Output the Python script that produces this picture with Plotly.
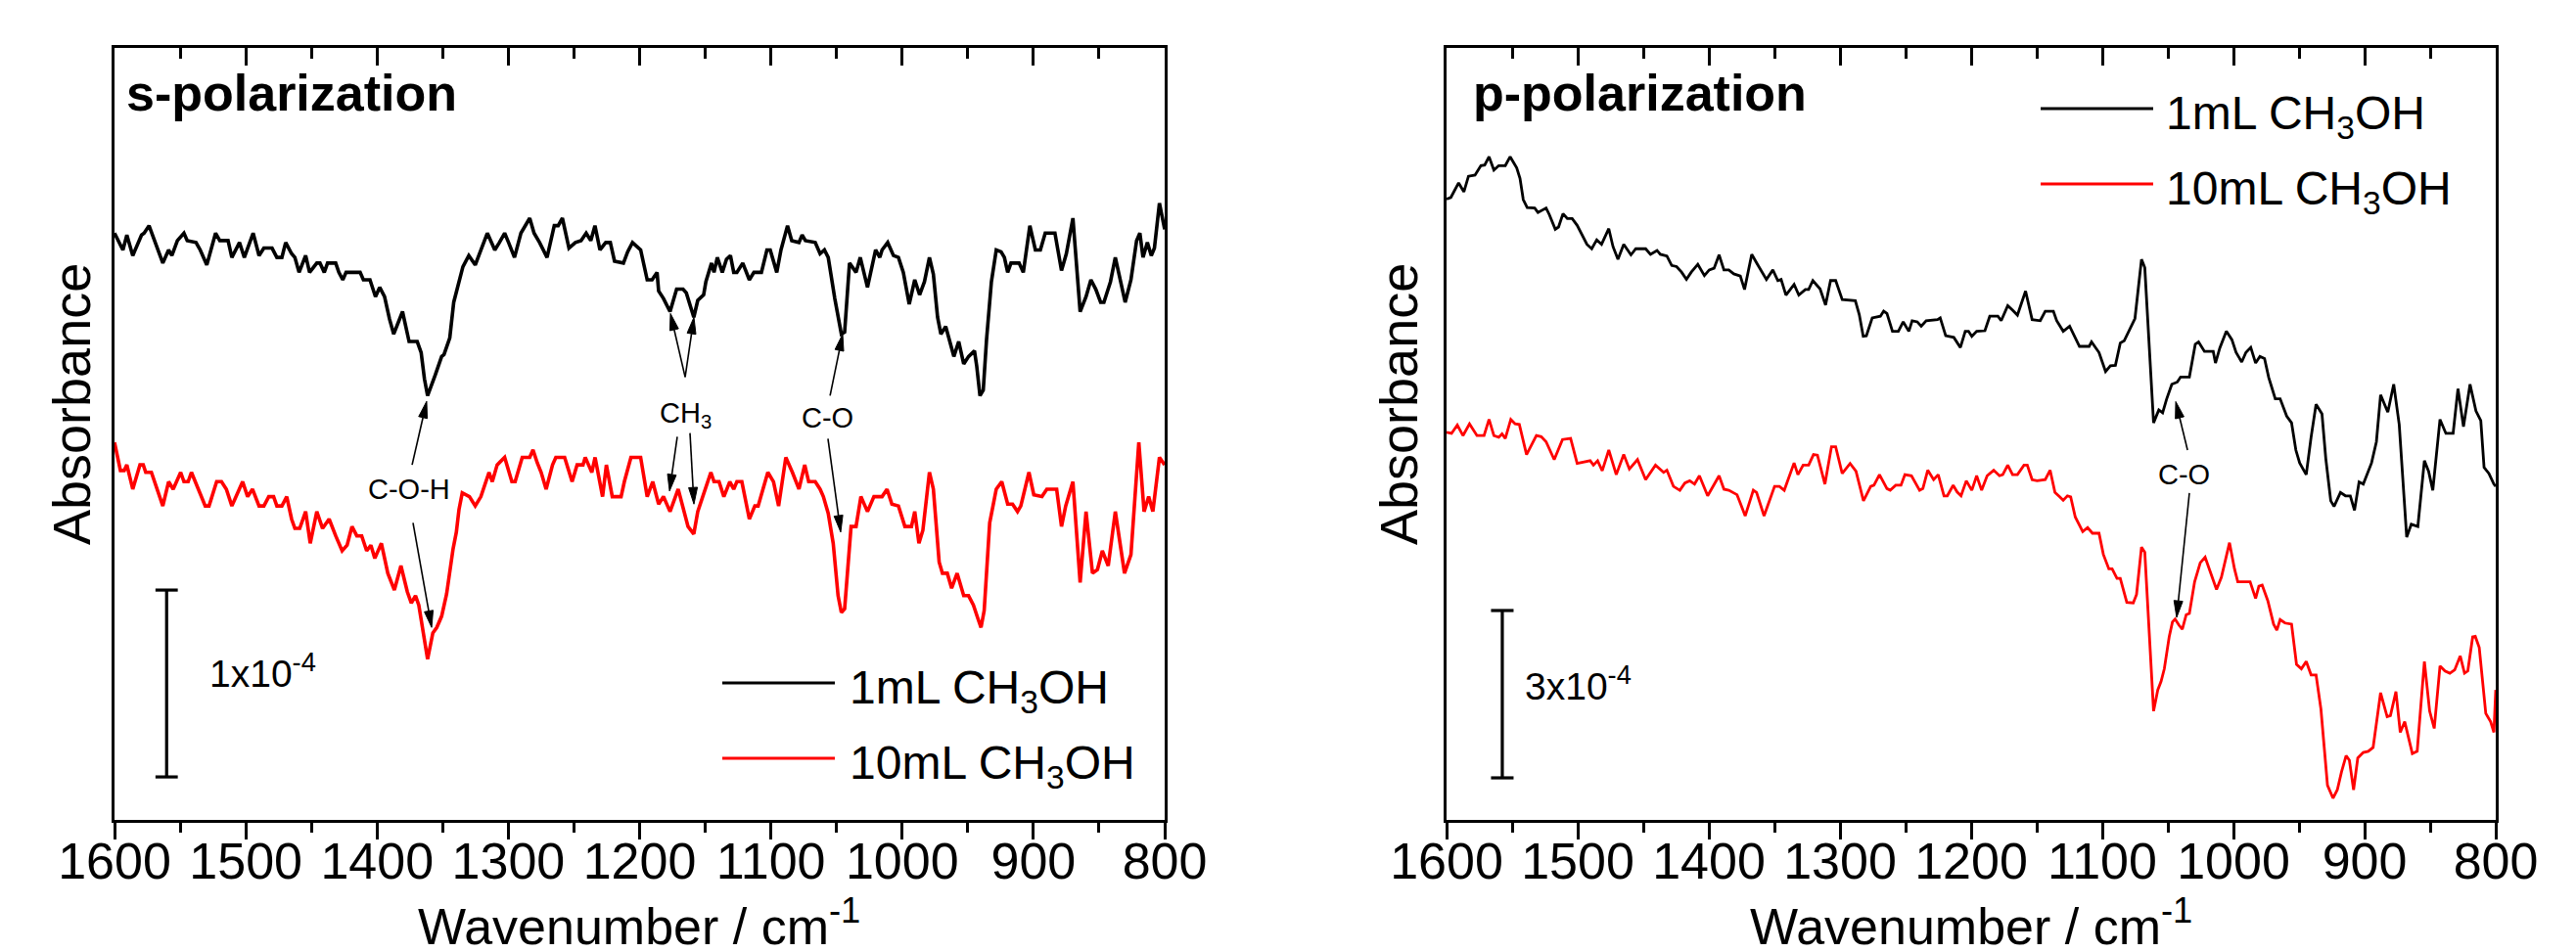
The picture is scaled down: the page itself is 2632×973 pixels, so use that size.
import math
import plotly.graph_objects as go

W, H = 2632, 973

# ---------------- data (wavenumber / cm-1, absorbance in units of 1e-4, offset) ----------------
S_1ML = [(1600,3.14),(1593.6,3.05),(1590.6,3.13),(1586.1,3.02),(1579.4,3.13),(1577.4,3.14),(1573.7,3.18),(1563.2,2.98),(1558.8,3.05),(1556.3,3.02),(1552.1,3.10),(1547.1,3.14),(1544.6,3.10),(1537.9,3.09),(1534.7,3.05),(1529.7,2.97),(1523.0,3.14),(1519.8,3.10),(1513.5,3.10),(1510.6,3.01),(1504.8,3.09),(1501.1,3.01),(1494.4,3.14),(1489.9,3.02),(1486.2,3.06),(1480.0,3.06),(1476.3,3.01),(1472.5,3.01),(1469.6,3.09),(1465.1,3.03),(1462.6,3.01),(1459.4,2.93),(1454.4,3.02),(1451.4,2.93),(1445.9,2.98),(1443.5,2.98),(1440.2,2.93),(1437.7,2.98),(1431.5,2.98),(1429.1,2.93),(1426.1,2.89),(1423.6,2.93),(1412.9,2.93),(1410.4,2.89),(1405.4,2.89),(1401.2,2.80),(1398.0,2.85),(1394.3,2.80),(1390.5,2.68),(1387.3,2.60),(1380.6,2.72),(1375.6,2.56),(1369.4,2.56),(1366.4,2.50),(1363.9,2.36),(1361.5,2.27),(1355.7,2.38),(1350.8,2.48),(1349.0,2.49),(1344.6,2.58),(1341.6,2.77),(1337.6,2.88),(1334.6,2.96),
 (1330.1,3.02),(1325.2,2.97),(1316.0,3.14),(1310.3,3.05),(1306.8,3.09),(1302.8,3.14),(1299.8,3.09),(1295.3,3.01),(1290.4,3.14),(1283.7,3.22),(1280.4,3.14),(1276.2,3.09),(1270.5,3.01),(1265.0,3.18),(1262.0,3.18),(1258.8,3.22),(1253.8,3.06),(1248.9,3.09),(1244.6,3.10),(1240.7,3.14),(1237.2,3.10),(1234.0,3.18),(1230.2,3.05),(1225.8,3.09),(1222.3,3.09),(1219.1,2.99),(1212.3,2.98),(1209.1,3.04),(1205.4,3.09),(1199.2,3.05),(1194.2,2.89),(1190.5,2.89),(1186.7,2.93),(1185.5,2.83),(1181.8,2.79),(1176.8,2.72),(1171.8,2.84),(1166.9,2.84),(1164.4,2.82),(1158.7,2.69),(1155.7,2.78),(1151.2,2.81),(1149.5,2.88),(1145.2,2.98),(1143.3,2.93),(1140.8,3.01),(1137.0,2.93),(1133.8,3.00),(1130.8,3.02),(1128.3,2.93),(1125.9,2.93),(1121.4,2.98),(1116.4,2.89),(1112.9,2.93),(1107.2,2.93),(1103.0,3.05),(1100.5,3.05),(1095.5,2.93),(1092.3,3.05),(1087.3,3.18),(1084.1,3.10),(1078.6,3.09),(1076.2,3.13),(1073.7,3.10),(1066.2,3.09),
 (1062.5,3.03),(1059.2,3.05),(1056.3,3.01),(1051.3,2.79),(1046.3,2.60),(1043.8,2.61),(1040.1,2.98),(1035.1,2.93),(1031.9,3.01),(1026.4,2.85),(1022.7,2.98),(1020.2,3.05),(1017.0,3.01),(1015.3,3.05),(1011.0,3.09),(1006.6,3.02),(1002.8,3.01),(999.1,2.93),(994.6,2.76),(990.4,2.89),(986.7,2.81),(983.0,2.88),(979.2,3.01),(976.2,2.92),(973.0,2.69),(970.5,2.60),(966.8,2.64),(964.3,2.58),(960.6,2.48),(956.9,2.56),(953.1,2.44),(949.4,2.48),(944.9,2.51),(943.2,2.43),(940.7,2.27),(938.2,2.30),(935.7,2.57),(932.0,2.88),(928.3,3.05),(924.6,3.04),(922.1,3.01),(919.6,2.93),(917.1,2.98),(910.9,2.98),(907.7,2.93),(902.7,3.18),(898.5,3.05),(894.7,3.05),(891.0,3.14),(883.6,3.14),(878.6,2.94),(874.9,3.03),(869.9,3.22),(864.4,2.72),(859.9,2.80),(856.2,2.89),(852.5,2.84),(848.8,2.77),(846.3,2.77),(841.3,2.88),(837.6,3.01),(830.1,2.77),(825.7,2.89),(821.4,3.10),(818.9,3.14),(816.5,3.01),(813.2,3.09),(810.2,3.02),(807.8,3.06),(804.0,3.30),(800,3.16)]

S_10ML = [(1600,2.02),(1595.5,1.87),(1592.6,1.87),(1590.6,1.90),(1586.1,1.77),(1580.6,1.90),(1578.1,1.90),(1576.2,1.86),(1571.9,1.86),(1563.2,1.68),(1558.8,1.81),(1555.3,1.77),(1549.6,1.86),(1547.1,1.81),(1543.9,1.81),(1541.4,1.86),(1530.9,1.68),(1528.0,1.68),(1522.2,1.81),(1518.5,1.81),(1514.8,1.77),(1510.6,1.68),(1502.4,1.81),(1498.6,1.73),(1494.9,1.77),(1489.9,1.68),(1486.2,1.68),(1482.5,1.73),(1478.8,1.73),(1476.3,1.68),(1472.5,1.68),(1468.8,1.73),(1465.1,1.61),(1462.6,1.56),(1458.9,1.56),(1454.4,1.65),(1450.9,1.48),(1445.9,1.65),(1441.5,1.56),(1436.5,1.61),(1431.5,1.52),(1426.6,1.44),(1422.8,1.47),(1419.1,1.57),(1415.4,1.52),(1411.7,1.52),(1407.9,1.44),(1404.7,1.47),(1401.7,1.40),(1396.7,1.48),(1391.8,1.32),(1386.8,1.23),(1381.8,1.36),(1376.9,1.22),(1373.9,1.16),(1370.7,1.20),(1368.2,1.15),(1364.4,0.98),(1361.5,0.86),(1357.5,1.00),(1354.5,1.03),(1350.8,1.09),(1347.0,1.21),(1342.1,1.45),(1339.6,1.54),(1337.6,1.66),(1335.1,1.75),
 (1329.6,1.73),(1325.2,1.68),(1320.9,1.73),(1314.7,1.86),(1312.2,1.81),(1308.5,1.90),(1302.8,1.94),(1297.3,1.81),(1294.8,1.81),(1289.4,1.94),(1283.7,1.94),(1281.2,1.98),(1277.9,1.91),(1275.0,1.86),(1271.2,1.77),(1266.3,1.90),(1263.8,1.94),(1257.1,1.94),(1251.4,1.81),(1247.6,1.90),(1243.1,1.90),(1241.4,1.94),(1238.9,1.90),(1236.4,1.86),(1233.9,1.94),(1228.2,1.73),(1225.3,1.90),(1220.8,1.73),(1214.1,1.73),(1211.6,1.81),(1206.6,1.94),(1199.2,1.94),(1194.2,1.73),(1190.0,1.81),(1185.5,1.69),(1181.8,1.73),(1176.8,1.65),(1170.6,1.77),(1163.1,1.57),(1158.7,1.53),(1155.7,1.65),(1145.7,1.86),(1143.3,1.81),(1139.5,1.81),(1135.8,1.73),(1131.3,1.81),(1128.3,1.77),(1125.9,1.81),(1122.1,1.81),(1116.4,1.61),(1112.2,1.68),(1109.7,1.68),(1102.3,1.86),(1098.0,1.81),(1094.1,1.68),(1088.6,1.94),(1083.6,1.86),(1078.6,1.77),(1074.2,1.90),(1071.2,1.81),(1066.2,1.81),
 (1062.5,1.77),(1060.0,1.73),(1056.3,1.64),(1052.5,1.48),(1048.8,1.20),(1046.3,1.11),(1043.8,1.13),(1038.9,1.57),(1035.1,1.57),(1031.4,1.73),(1026.4,1.65),(1021.5,1.73),(1015.3,1.73),(1011.5,1.77),(1007.8,1.69),(1002.8,1.68),(997.9,1.57),(992.9,1.57),(990.4,1.65),(987.2,1.48),(984.2,1.55),(979.2,1.86),(976.2,1.77),(971.8,1.38),(969.3,1.32),(965.6,1.32),(962.3,1.24),(958.1,1.32),(953.1,1.20),(949.4,1.20),(945.7,1.15),(942.4,1.08),(939.9,1.03),(937.5,1.12),(933.3,1.59),(928.3,1.77),(924.1,1.81),(919.6,1.69),(915.9,1.69),(912.1,1.65),(909.6,1.68),(903.4,1.86),(899.7,1.74),(893.5,1.73),(889.8,1.77),(882.3,1.77),(878.6,1.57),(875.4,1.68),(869.9,1.81),(864.4,1.27),(859.9,1.65),(855.0,1.32),(851.2,1.34),(847.5,1.44),(843.0,1.36),(837.6,1.65),(830.6,1.32),(825.7,1.42),(823.2,1.68),(819.7,2.02),(815.7,1.65),(812.2,1.73),(809.0,1.65),(804.0,1.94),(800,1.90)]

P_1ML = [(1600,11.13),(1596.7,11.16),(1590.8,11.42),(1586.8,11.26),(1583.3,11.54),(1578.3,11.56),(1573.8,11.73),(1570.9,11.74),(1567.6,11.89),(1563.9,11.65),(1560.2,11.73),(1555.2,11.73),(1551.5,11.89),(1546.5,11.69),(1544.0,11.50),(1541.5,11.12),(1538.5,10.98),(1532.8,10.97),(1530.3,10.89),(1524.1,10.97),(1521.6,10.85),(1517.1,10.59),(1514.6,10.63),(1511.2,10.87),(1507.9,10.78),(1504.2,10.78),(1500.4,10.66),(1493.0,10.32),(1489.3,10.24),(1485.5,10.40),(1481.8,10.32),(1476.3,10.60),(1473.1,10.28),(1469.3,10.05),(1464.9,10.32),(1459.4,10.13),(1455.7,10.24),(1448.2,10.24),(1444.5,10.14),(1439.5,10.21),(1437.0,10.14),(1432.0,10.11),(1428.3,9.94),(1424.6,9.92),(1420.8,9.82),(1417.1,9.69),(1413.4,9.82),(1408.4,9.96),(1403.4,9.76),(1399.7,9.86),(1396.0,9.89),(1392.2,10.13),(1388.5,9.86),(1384.8,9.86),(1381.0,9.79),(1376.0,9.75),(1372.8,9.51),(1367.3,10.14),(1362.9,9.96),(1356.1,9.69),(1351.2,9.86),(1347.4,9.67),(1344.9,9.69),(1341.2,9.41),(1335.0,9.60),
 (1331.4,9.41),(1326.4,9.51),(1323.9,9.51),(1320.7,9.67),(1317.7,9.58),(1315.2,9.52),(1311.0,9.23),(1307.2,9.67),(1303.3,9.67),(1298.3,9.33),(1288.3,9.31),(1285.3,9.06),(1282.3,8.67),(1279.9,8.68),(1275.4,9.00),(1269.2,9.03),(1266.7,9.12),(1264.2,9.08),(1260.0,8.76),(1255.5,8.76),(1251.8,8.93),(1247.5,8.76),(1245.0,8.95),(1241.1,8.93),(1238.1,8.85),(1234.3,8.95),(1225.6,8.97),(1223.6,9.00),(1219.4,8.68),(1213.2,8.65),(1208.2,8.47),(1204.5,8.76),(1202.0,8.76),(1199.5,8.67),(1195.8,8.76),(1189.5,8.77),(1185.8,9.03),(1179.6,9.03),(1177.1,8.95),(1172.1,9.22),(1168.4,9.14),(1164.7,9.05),(1158.5,9.48),(1153.5,8.97),(1147.3,8.95),(1143.5,9.12),(1137.3,9.12),(1134.8,8.95),(1129.8,8.76),(1124.9,8.85),(1117.4,8.49),(1110.0,8.49),(1108.2,8.57),(1102.5,8.38),(1097.5,8.04),(1093.8,8.14),(1090.0,8.15),(1086.3,8.55),(1083.3,8.59),(1075.1,8.99),(1070.1,10.05),(1067.6,9.90),
 (1060.9,7.12),(1056.9,7.35),(1054.0,7.30),(1051.0,7.54),(1047.0,7.81),(1042.8,7.85),(1040.3,7.94),(1033.6,7.94),(1029.1,8.53),(1026.6,8.57),(1022.1,8.40),(1015.4,8.40),(1013.7,8.19),(1010.4,8.46),(1005.4,8.76),(1001.2,8.61),(998.0,8.38),(993.7,8.21),(990.5,8.38),(986.8,8.47),(983.1,8.19),(979.8,8.31),(976.3,8.27),(973.1,7.93),(970.6,7.74),(968.1,7.55),(964.4,7.55),(959.4,7.24),(955.7,7.12),(952.4,6.63),(949.5,6.40),(944.5,6.19),(940.8,6.86),(937.0,7.45),(932.5,7.28),(929.6,6.48),(925.8,5.72),(923.3,5.62),(918.4,5.87),(914.6,5.81),(910.9,5.81),(907.7,5.55),(904.2,6.06),(901.0,6.02),(894.7,6.40),(891.0,6.78),(887.8,7.62),(882.3,7.31),(877.8,7.81),(873.6,7.09),(867.9,5.07),(864.4,5.30),(859.4,5.26),(854.4,6.44),(851.2,6.25),(848.0,5.91),(842.5,7.18),(838.0,6.93),(832.5,6.93),(828.8,7.73),(824.6,7.05),(819.6,7.81),(815.1,7.33),(811.4,7.16),(808.9,6.32),(805.2,6.21),(801.4,6.02),(800,5.98)]

P_10ML = [(1600,6.95),(1596.2,6.93),(1591.8,7.08),(1587.5,6.89),(1582.5,7.10),(1576.8,6.89),(1571.4,6.89),(1567.6,7.18),(1563.9,6.89),(1560.2,6.86),(1557.7,6.92),(1555.2,6.84),(1551.0,7.18),(1547.7,7.10),(1544.5,7.09),(1539.0,6.55),(1531.5,6.89),(1527.8,6.87),(1524.1,6.78),(1517.9,6.46),(1511.6,6.82),(1505.4,6.84),(1500.4,6.39),(1490.5,6.44),(1488.0,6.36),(1484.8,6.44),(1481.3,6.26),(1476.3,6.63),(1470.6,6.19),(1464.9,6.55),(1460.6,6.29),(1454.4,6.46),(1448.2,6.10),(1440.7,6.36),(1434.5,6.23),(1432.0,6.27),(1427.0,5.98),(1422.1,5.91),(1418.3,6.04),(1414.6,6.08),(1410.9,6.02),(1407.2,6.17),(1400.9,5.81),(1392.2,6.17),(1388.5,5.93),(1384.8,5.91),(1378.5,5.83),(1372.3,5.45),(1366.1,5.91),(1363.6,5.87),(1357.9,5.45),(1349.9,5.98),(1346.2,5.98),(1342.5,5.91),(1335.0,6.40),
 (1332.1,6.19),(1328.1,6.36),(1323.9,6.36),(1320.2,6.55),(1317.2,6.54),(1311.5,6.02),(1306.5,6.69),(1303.3,6.69),(1298.3,6.21),(1292.3,6.39),(1287.8,6.25),(1282.1,5.72),(1276.6,5.98),(1274.1,6.00),(1269.9,6.19),(1264.2,5.94),(1261.7,5.91),(1257.5,6.00),(1253.5,6.00),(1250.5,6.19),(1245.5,6.17),(1239.3,5.91),(1236.8,5.94),(1233.1,6.27),(1228.6,6.10),(1225.1,6.19),(1220.7,5.81),(1218.2,5.81),(1213.7,6.00),(1210.7,5.88),(1207.7,5.81),(1203.7,6.08),(1199.5,5.91),(1195.8,6.17),(1192.0,5.91),(1187.8,6.17),(1182.8,6.27),(1178.4,6.17),(1175.9,6.19),(1172.1,6.36),(1168.4,6.19),(1164.7,6.19),(1159.7,6.36),(1157.2,6.36),(1153.5,6.10),(1149.7,6.08),(1143.5,6.10),(1139.8,6.27),(1136.1,5.87),(1132.3,5.79),(1129.8,5.73),(1126.6,5.81),(1124.1,5.79),(1120.6,5.43),(1114.9,5.17),(1111.2,5.24),(1107.5,5.14),(1102.5,5.14),(1099.2,4.76),(1095.0,4.50),(1092.5,4.50),(1088.8,4.33),(1086.3,4.33),(1081.3,3.90),(1076.4,3.89),(1073.9,4.04),(1070.1,4.89),(1067.6,4.80),
 (1060.9,1.95),(1057.7,2.33),(1055.2,2.48),(1052.7,2.71),(1049.0,3.28),(1046.5,3.55),(1044.5,3.60),(1041.5,3.49),(1039.0,3.42),(1036.0,3.68),(1033.6,3.70),(1029.6,4.27),(1025.3,4.61),(1021.6,4.71),(1017.1,4.42),(1012.9,4.13),(1009.2,4.35),(1003.0,4.97),(999.2,4.50),(996.7,4.27),(987.3,4.27),(983.1,3.97),(980.6,4.19),(978.1,4.21),(973.8,3.93),(969.4,3.51),(966.9,3.40),(964.4,3.59),(960.7,3.53),(955.7,3.51),(951.9,2.79),(948.2,2.71),(944.5,2.84),(940.8,2.60),(937.0,2.60),(933.3,1.99),(928.3,0.62),(924.1,0.39),(920.8,0.54),(917.6,0.86),(914.1,1.15),(911.6,1.07),(908.4,0.54),(905.2,1.11),(901.0,1.21),(897.2,1.23),(893.5,1.30),(887.8,2.28),(882.8,1.85),(880.3,1.87),(876.1,2.30),(872.8,1.57),(869.4,1.76),(863.6,1.19),(859.9,1.23),(854.4,2.84),(850.4,1.95),(846.9,1.64),(842.5,2.76),(838.7,2.67),(835.0,2.63),(831.3,2.69),(827.1,2.94),(823.8,2.63),(821.3,2.67),(817.6,3.28),(815.6,3.29),(812.6,3.09),(807.6,1.91),(803.9,1.76),(801.4,1.57),(800,2.33)]

SERIES_NAMES = ["1mL CH<sub>3</sub>OH", "10mL CH<sub>3</sub>OH"]
SERIES_COLORS = ["#000000", "#ff0000"]
X_TICKS = [1600, 1500, 1400, 1300, 1200, 1100, 1000, 900, 800]
X_RANGE = [1600, 800]

# scale bars: (wavenumber, bottom, length) in 1e-4 absorbance units
SCALE_S = (1560.3, 0.23, 1.0)
SCALE_P = (1557.5, 0.754, 3.0)

# band-assignment arrows: (label, tail_wn, tail_abs, tip_wn, tip_abs)
ARROWS_S = [("C-O-H", 1373.3, 1.90, 1362.2, 2.24), ("C-O-H", 1372.6, 1.59, 1358.4, 1.03),
            ("CH3", 1165.3, 2.37, 1176.5, 2.71), ("CH3", 1165.3, 2.37, 1158.6, 2.69),
            ("CH3", 1171.3, 2.05, 1177.2, 1.76), ("CH3", 1161.6, 2.07, 1158.6, 1.69),
            ("C-O", 1054.9, 2.27, 1045.3, 2.60), ("C-O", 1056.5, 2.04, 1046.8, 1.54)]
ARROWS_P = [("C-O", 1035.0, 6.63, 1044.0, 7.50), ("C-O", 1033.6, 5.86, 1043.3, 3.63)]
LABELS_S = [("C-O-H", 1375.6, 1.77), ("CH<sub>3</sub>", 1164.6, 2.17), ("C-O", 1057.2, 2.15)]
LABELS_P = [("C-O", 1038.0, 6.19)]

Y_RANGE_S = [0, 4.131]
Y_RANGE_P = [0, 13.84]

# ---------------- layout geometry (pixels) ----------------
PLOT_TOP, PLOT_BOTTOM = 41, 830
LEFT_X = (109, 1182)
RIGHT_X = (1470, 2542)

FONT = "Liberation Sans, Arial, sans-serif"
def px(x): return x / W
def py(y): return 1 - y / H

fig = go.Figure()

def add_curve(data, color, width, xa, ya, name):
    xs = [d[0] for d in data]
    ys = [d[1] for d in data]
    fig.add_trace(go.Scatter(x=xs, y=ys, mode="lines", name=name, showlegend=False,
                             line=dict(color=color, width=width), xaxis=xa, yaxis=ya,
                             hoverinfo="skip"))

add_curve(S_1ML, SERIES_COLORS[0], 3.6, "x", "y", SERIES_NAMES[0])
add_curve(S_10ML, SERIES_COLORS[1], 3.6, "x", "y", SERIES_NAMES[1])
add_curve(P_1ML, SERIES_COLORS[0], 2.8, "x2", "y2", SERIES_NAMES[0])
add_curve(P_10ML, SERIES_COLORS[1], 2.8, "x2", "y2", SERIES_NAMES[1])

def add_scalebar(sb, cap, xa, ya):
    c, b, L = sb
    t = b + L
    fig.add_trace(go.Scatter(x=[c - cap, c + cap, None, c, c, None, c - cap, c + cap],
                             y=[t, t, None, t, b, None, b, b], mode="lines",
                             line=dict(color="black", width=3.2), xaxis=xa, yaxis=ya,
                             showlegend=False, hoverinfo="skip"))

add_scalebar(SCALE_S, 8.5, "x", "y")
add_scalebar(SCALE_P, 8.6, "x2", "y2")

def add_arrows(arrows, xa, ya, xpix, yrng):
    # pixel scale of the axes, so the heads keep their shape on screen
    kx = (xpix[1] - xpix[0]) / (X_RANGE[0] - X_RANGE[1])      # px per cm-1 (reversed axis)
    ky = (PLOT_BOTTOM - PLOT_TOP) / (yrng[1] - yrng[0])         # px per unit
    head_len, head_half = 17.0, 4.5
    for _, x0, y0, x1, y1 in arrows:
        dx = -(x1 - x0) * kx
        dy = (y1 - y0) * ky
        n = math.hypot(dx, dy)
        ux, uy = dx / n, dy / n
        bx, by = -head_len * ux, -head_len * uy           # base centre relative to tip (px)
        cx, cy = -uy * head_half, ux * head_half          # perpendicular
        def to_data(ox, oy):
            return x1 - ox / kx, y1 + oy / ky
        base = to_data(bx, by)
        c1 = to_data(bx + cx, by + cy)
        c2 = to_data(bx - cx, by - cy)
        fig.add_trace(go.Scatter(x=[x0, base[0]], y=[y0, base[1]], mode="lines",
                                 line=dict(color="black", width=1.6),
                                 xaxis=xa, yaxis=ya, showlegend=False, hoverinfo="skip"))
        fig.add_trace(go.Scatter(x=[x1, c1[0], c2[0], x1], y=[y1, c1[1], c2[1], y1],
                                 mode="lines", fill="toself", fillcolor="black",
                                 line=dict(color="black", width=1),
                                 xaxis=xa, yaxis=ya, showlegend=False, hoverinfo="skip"))

add_arrows(ARROWS_S, "x", "y", LEFT_X, Y_RANGE_S)
add_arrows(ARROWS_P, "x2", "y2", RIGHT_X, Y_RANGE_P)

# helpers for top-axis inward ticks
fig.add_trace(go.Scatter(x=[1600], y=[0], xaxis="x3", yaxis="y", mode="markers",
                         marker=dict(opacity=0), showlegend=False, hoverinfo="skip"))
fig.add_trace(go.Scatter(x=[1600], y=[0], xaxis="x4", yaxis="y2", mode="markers",
                         marker=dict(opacity=0), showlegend=False, hoverinfo="skip"))

ydom = [py(PLOT_BOTTOM), py(PLOT_TOP)]
xdom1 = [px(LEFT_X[0]), px(LEFT_X[1])]
xdom2 = [px(RIGHT_X[0]), px(RIGHT_X[1])]

def xaxis_bottom(dom, anchor):
    return dict(domain=dom, anchor=anchor, range=X_RANGE, tickvals=X_TICKS,
                ticks="outside", ticklen=17, tickwidth=2.5, tickcolor="black",
                showline=True, linewidth=2.5, linecolor="black", mirror=True,
                showgrid=False, zeroline=False, automargin=False,
                ticklabelstandoff=-22,
                tickfont=dict(family=FONT, size=52, color="black"),
                minor=dict(dtick=50, tick0=0, ticks="outside", ticklen=10, tickwidth=2.5,
                           tickcolor="black", showgrid=False))

def xaxis_top(over, anchor):
    return dict(overlaying=over, anchor=anchor, side="top", range=X_RANGE,
                tickvals=X_TICKS, ticks="inside", ticklen=18, tickwidth=2.5,
                tickcolor="black", showticklabels=False, showline=False,
                showgrid=False, zeroline=False, automargin=False,
                minor=dict(dtick=50, tick0=0, ticks="inside", ticklen=11, tickwidth=2.5,
                           tickcolor="black", showgrid=False))

def yaxis(anchor, rng):
    return dict(domain=ydom, anchor=anchor, range=rng, showline=True, linewidth=2.5,
                linecolor="black", mirror=True, ticks="", showticklabels=False,
                showgrid=False, zeroline=False, fixedrange=True, automargin=False)

ann = []
def text(t, x, y, size, xanchor="center", yanchor="middle", angle=0, xref="paper", yref="paper"):
    ann.append(dict(text=t, x=x, y=y, xref=xref, yref=yref, showarrow=False,
                    xanchor=xanchor, yanchor=yanchor, textangle=angle,
                    font=dict(family=FONT, size=size, color="black")))

# axis titles
text("Absorbance", px(65), py(405), 54, angle=-90)
text("Absorbance", px(1421), py(405), 54, angle=-90)
text("Wavenumber / cm<sup>-1</sup>", px(645), py(935), 52)
text("Wavenumber / cm<sup>-1</sup>", px(2006), py(935), 52)
# panel titles
text("<b>s-polarization</b>", px(119), py(87), 52, xanchor="left")
text("<b>p-polarization</b>", px(1495), py(87), 52, xanchor="left")
# scale bar labels
text("1x10<sup>-4</sup>", 1529.2, 0.80, 39, xanchor="left", xref="x", yref="y")
text("3x10<sup>-4</sup>", 1541.8, 2.45, 39, xanchor="left", xref="x2", yref="y2")
# band labels
for t, x, y in LABELS_S:
    text(t, x, y, 29, xref="x", yref="y")
for t, x, y in LABELS_P:
    text(t, x, y, 29, xref="x2", yref="y2")

# manual legends (long sample lines as in the original)
shapes = []
def legend(x0, x1, xt, ys):
    for name, color, yy in zip(SERIES_NAMES, SERIES_COLORS, ys):
        shapes.append(dict(type="line", xref="paper", yref="paper", x0=px(x0), x1=px(x1),
                           y0=py(yy), y1=py(yy), line=dict(color=color, width=3)))
        text(name, px(xt), py(yy + 8), 48, xanchor="left")

legend(730, 845, 858, [690, 767])
legend(2077, 2192, 2203, [103, 180])

fig.update_layout(
    width=W, height=H, margin=dict(l=0, r=0, t=0, b=0, autoexpand=False),
    paper_bgcolor="white", plot_bgcolor="white",
    font=dict(family=FONT, color="black"),
    xaxis=xaxis_bottom(xdom1, "y"), yaxis=yaxis("x", Y_RANGE_S),
    xaxis2=xaxis_bottom(xdom2, "y2"), yaxis2=yaxis("x2", Y_RANGE_P),
    xaxis3=xaxis_top("x", "y"), xaxis4=xaxis_top("x2", "y2"),
    annotations=ann, shapes=shapes, showlegend=False,
)

fig.write_html("out.html")
